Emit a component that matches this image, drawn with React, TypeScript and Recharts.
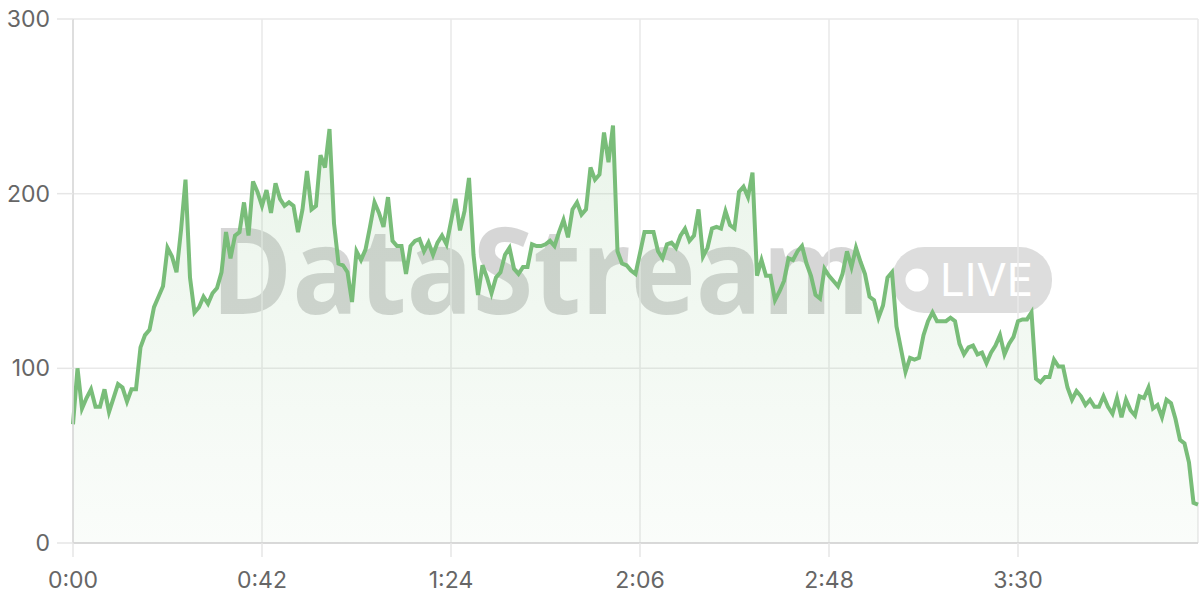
import { AreaChart, Area, XAxis, YAxis, CartesianGrid } from "recharts";

// one reading per second, 0..250 s
const values = [
  68, 100, 77, 83, 88, 78, 78, 88, 75, 83, 91, 89, 81, 88, 88, 112, 119, 122, 135, 141,
  147, 169, 164, 155, 179, 208, 152, 132, 135, 141, 137, 143, 146, 155, 178, 163, 176, 178, 195, 176,
  207, 201, 193, 202, 189, 206, 197, 193, 195, 193, 178, 191, 213, 191, 193, 222, 215, 237, 183, 160,
  159, 155, 138, 167, 162, 168, 181, 195, 189, 181, 198, 173, 170, 170, 154, 170, 173, 174, 167, 172,
  165, 172, 176, 171, 184, 197, 179, 190, 209, 165, 142, 159, 152, 143, 152, 155, 165, 169, 157, 154,
  158, 158, 171, 170, 170, 171, 173, 170, 178, 185, 175, 191, 195, 188, 191, 215, 208, 211, 235, 218,
  239, 167, 160, 159, 156, 154, 166, 178, 178, 178, 167, 163, 171, 172, 169, 176, 180, 173, 176, 191,
  164, 169, 180, 181, 180, 190, 182, 180, 201, 204, 198, 212, 153, 162, 153, 153, 139, 144, 150, 163,
  162, 167, 170, 160, 153, 142, 140, 157, 153, 150, 147, 154, 167, 158, 169, 161, 154, 141, 139, 129,
  136, 152, 155, 124, 111, 98, 106, 105, 106, 119, 127, 132, 127, 127, 127, 129, 127, 114, 108, 112,
  113, 108, 109, 103, 109, 113, 119, 108, 114, 118, 127, 128, 128, 132, 94, 92, 95, 95, 105, 101,
  101, 89, 82, 87, 84, 79, 82, 78, 78, 84, 78, 74, 83, 72, 82, 76, 73, 84, 83, 89,
  77, 79, 72, 82, 80, 71, 59, 57, 46, 23, 22,
];

const xTicks = [0, 42, 84, 126, 168, 210];
const xTickLabels = ["0:00", "0:42", "1:24", "2:06", "2:48", "3:30"];
const yTicks = [0, 100, 200, 300];

const data = values.map((v, i) => ({ t: i, v }));

const tickFont = { fill: "#666", fontSize: 23, fontFamily: "Inter" };

export default function App() {
  return (
    <div style={{ position: "absolute", left: 0, top: 0, width: 1200, height: 600, background: "#fff" }}>
      {/* watermark sits behind the chart */}
      <svg width={1200} height={600} style={{ position: "absolute", left: 0, top: 0 }}>
        <text
          x={211}
          y={314}
          textLength={659}
          lengthAdjust="spacingAndGlyphs"
          fontFamily="Open Sans"
          fontWeight="bold"
          fontSize={120}
          fill="rgba(0,0,0,0.16)"
        >
          DataStream
        </text>
        <rect x={892} y={247} width={160} height={66} rx={32} fill="rgba(0,0,0,0.135)" />
        <circle cx={917} cy={280} r={11.5} fill="#fff" />
        <text
          x={940}
          y={296}
          textLength={93}
          lengthAdjust="spacingAndGlyphs"
          fontFamily="Inter"
          fontSize={45}
          fill="#fff"
        >
          LIVE
        </text>
      </svg>
      <div style={{ position: "absolute", left: 0, top: 0 }}>
        <AreaChart width={1200} height={600} data={data} margin={{ top: 19, right: 2, left: 0, bottom: 0 }}>
          <defs>
            <linearGradient id="fillGreen" x1="0" y1="0" x2="0" y2="1">
              <stop offset="0%" stopColor="#78bb78" stopOpacity={0.26} />
              <stop offset="100%" stopColor="#78bb78" stopOpacity={0.06} />
            </linearGradient>
          </defs>
          <CartesianGrid stroke="#e9e9e9" strokeWidth={1.5} />
          <XAxis
            dataKey="t"
            type="number"
            domain={[0, 250]}
            ticks={xTicks}
            tickFormatter={(s: number) => xTickLabels[xTicks.indexOf(s)]}
            height={57}
            tickSize={14}
            tickMargin={15}
            tick={tickFont}
            tickLine={{ stroke: "#e6e6e6", strokeWidth: 1.5 }}
            axisLine={{ stroke: "#d2d2d2", strokeWidth: 1.5 }}
          />
          <YAxis
            domain={[0, 300]}
            ticks={yTicks}
            width={73}
            tickSize={16}
            tickMargin={7}
            tick={tickFont}
            tickLine={{ stroke: "#e6e6e6", strokeWidth: 1.5 }}
            axisLine={{ stroke: "#d8d8d8", strokeWidth: 1.5 }}
          />
          <Area
            type="linear"
            dataKey="v"
            stroke="#79bd79"
            strokeWidth={4}
            fill="url(#fillGreen)"
            dot={false}
            activeDot={false}
            isAnimationActive={false}
          />
        </AreaChart>
      </div>
    </div>
  );
}
